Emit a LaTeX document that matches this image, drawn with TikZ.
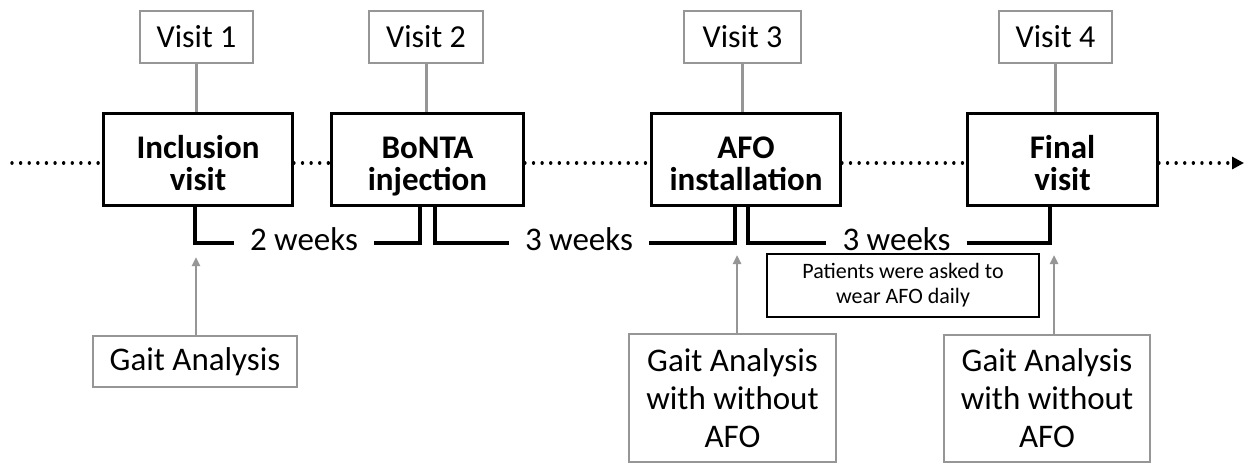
\documentclass[tikz,border=0pt]{standalone}
\usepackage{fontspec}
\setmainfont{Carlito}
\usetikzlibrary{arrows.meta,calc}
\definecolor{boxgray}{RGB}{150,150,150}
\begin{document}
\begin{tikzpicture}[x=1pt,y=-1pt,
  mainbox/.style={draw=black,line width=2.8pt,minimum height=92pt,inner sep=0pt,align=center,
    text height=61pt,text depth=0pt,font=\fontsize{33}{32}\selectfont\bfseries},
  visitbox/.style={draw=boxgray,line width=2pt,minimum height=52pt,inner sep=0pt,
    font=\fontsize{32}{36}\selectfont},
  gaitbox/.style={draw=boxgray,line width=2pt,inner sep=0pt,align=center,
    font=\fontsize{33}{38}\selectfont},
  notebox/.style={draw=black,line width=1.3pt,inner sep=0pt,align=center,
    minimum width=272pt,minimum height=63pt,font=\fontsize{22}{25}\selectfont},
  weeks/.style={inner xsep=16pt,inner ysep=0pt,text height=23pt,text depth=9pt,
    font=\fontsize{33}{38}\selectfont},
  bracket/.style={draw=black,line width=3.2pt},
  glink/.style={draw=boxgray,line width=3pt},
  garrow/.style={draw=boxgray,line width=2.5pt,-{Triangle[length=9pt,width=8pt]}},
  dots/.style={draw=black,line width=3.4pt,line cap=round,dash pattern=on 0.01pt off 8.6pt}
]
\useasboundingbox (0,0) rectangle (1244,464);
\fill[white] (0,0) rectangle (1244,464);

% main boxes
\node[mainbox,minimum width=189pt] (inc) at (198,159.5) {Inclusion\\visit};
\node[mainbox,minimum width=192pt] (bon) at (427.5,159.5) {BoNTA\\injection};
\node[mainbox,minimum width=189pt] (afo) at (746,159.5) {AFO\\installation};
\node[mainbox,minimum width=190pt] (fin) at (1062.5,159.5) {Final\\visit};

% visit boxes
\node[visitbox,minimum width=113pt] (v1) at (196.5,37) {Visit 1};
\node[visitbox,minimum width=114pt] (v2) at (426,37) {Visit 2};
\node[visitbox,minimum width=117pt] (v3) at (742.5,37) {Visit 3};
\node[visitbox,minimum width=113pt] (v4) at (1055.5,37) {Visit 4};
\draw[glink] (v1.south) -- (v1.south |- inc.north);
\draw[glink] (v2.south) -- (v2.south |- bon.north);
\draw[glink] (v3.south) -- (v3.south |- afo.north);
\draw[glink] (v4.south) -- (v4.south |- fin.north);

% dotted time line
\coordinate (start) at (12,163);
\coordinate (end) at (1244,163);
\draw[dots] (start) -- ([yshift=-3.5pt]inc.west);
\draw[dots] ([yshift=-3.5pt]inc.east) -- ([yshift=-3.5pt]bon.west);
\draw[dots] ([yshift=-3.5pt]bon.east) -- ([yshift=-3.5pt]afo.west);
\draw[dots] ([yshift=-3.5pt]afo.east) -- ([yshift=-3.5pt]fin.west);
\draw[dots,-{Triangle[length=12pt,width=12pt]}] ([yshift=-3.5pt]fin.east) -- (end);

% week brackets
\node[weeks] (w1) at (304,243) {2 weeks};
\node[weeks] (w2) at (579,243) {3 weeks};
\node[weeks] (w3) at (896.5,243) {3 weeks};
\draw[bracket] ([xshift=-3pt]inc.south) |- (w1.west);
\draw[bracket] (w1.east) -| ([xshift=-7.5pt]bon.south);
\draw[bracket] ([xshift=7.5pt]bon.south) |- (w2.west);
\draw[bracket] (w2.east) -| ([xshift=-11pt]afo.south);
\draw[bracket] ([xshift=2pt]afo.south) |- (w3.west);
\draw[bracket] (w3.east) -| ([xshift=-12.5pt]fin.south);

% note
\node[notebox] (note) at (903,285.5) {Patients were asked to\\wear AFO daily};

% gait analysis boxes
\node[gaitbox,minimum width=204pt,minimum height=51pt] (g1) at (195,361.5) {Gait Analysis};
\node[gaitbox,minimum width=207pt,minimum height=128pt] (g3) at (732.5,398) {Gait Analysis\\with without\\AFO};
\node[gaitbox,minimum width=206pt,minimum height=127pt] (g4) at (1047,398.5) {Gait Analysis\\with without\\AFO};
\coordinate (t1) at (196,257);
\coordinate (t3) at (737,255);
\coordinate (t4) at (1054,255);
\draw[garrow] (g1.north -| t1) -- (t1);
\draw[garrow] (g3.north -| t3) -- (t3);
\draw[garrow] (g4.north -| t4) -- (t4);
\end{tikzpicture}
\end{document}
